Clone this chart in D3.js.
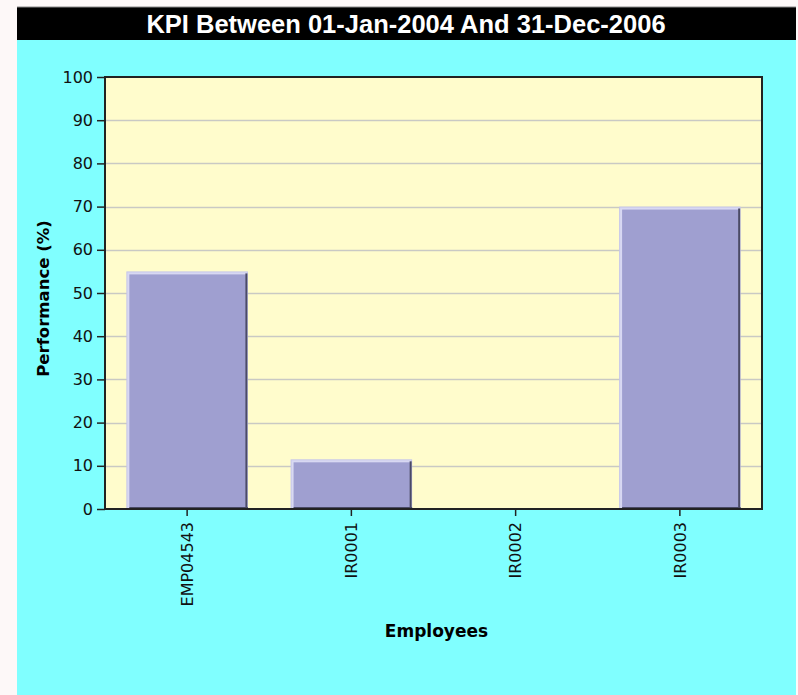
<!DOCTYPE html>
<html>
<head>
<meta charset="utf-8">
<script src="https://cdn.jsdelivr.net/npm/d3@7"></script>
<style>
  html, body { margin: 0; padding: 0; background: #fdf8f8; }
  svg { display: block; }
</style>
</head>
<body>
<svg id="chart" width="798" height="695"></svg>
<script>
// KPI per employee, 01-Jan-2004 .. 31-Dec-2006
const employees = ["EMP04543", "IR0001", "IR0002", "IR0003"];
const performance = [55, 11.5, 0, 70];
const yTicks = [0, 10, 20, 30, 40, 50, 60, 70, 80, 90, 100];
const chartTitle = "KPI Between 01-Jan-2004 And 31-Dec-2006";

const axisFont = "DejaVu Sans, Verdana, sans-serif";
const titleFont = "Liberation Sans, Arial, sans-serif";

const svg = d3.select("#chart");

// outer panel and title bar
svg.append("rect").attr("x", 17).attr("y", 7).attr("width", 779).attr("height", 695)
  .attr("fill", "#80ffff");
svg.append("rect").attr("x", 17).attr("y", 7).attr("width", 779).attr("height", 33)
  .attr("fill", "#000");
svg.append("line").attr("x1", 17).attr("x2", 796).attr("y1", 7).attr("y2", 7)
  .attr("stroke", "#888").attr("stroke-width", 1);
svg.append("text").attr("x", 406).attr("y", 32.5).attr("text-anchor", "middle")
  .attr("fill", "#fff").attr("font-size", 25.5).attr("font-weight", "bold")
  .attr("font-family", titleFont)
  .text(chartTitle);

const plot = { left: 105, right: 762, top: 77, bottom: 509 };

const x = d3.scaleBand().domain(employees).range([plot.left, plot.right])
  .paddingInner(0.26).paddingOuter(0.13);
const y = d3.scaleLinear().domain([0, 100]).range([plot.bottom, plot.top]);

// plot area
svg.append("rect").attr("x", plot.left).attr("y", plot.top)
  .attr("width", plot.right - plot.left).attr("height", plot.bottom - plot.top)
  .attr("fill", "#fffccc");

// gridlines
svg.append("g").selectAll("line").data(yTicks.filter(d => d > 0 && d < 100)).join("line")
  .attr("x1", plot.left).attr("x2", plot.right)
  .attr("y1", d => Math.round(y(d)) + 0.5).attr("y2", d => Math.round(y(d)) + 0.5)
  .attr("stroke", "#c9c9c4").attr("stroke-width", 1.5);

// bars with bevelled edges
const bars = svg.append("g").selectAll("g").data(employees.map((e, i) => ({ e, v: performance[i] })))
  .join("g");
bars.filter(d => d.v > 0).each(function (d) {
  const g = d3.select(this);
  const bx = x(d.e), bw = x.bandwidth(), by = y(d.v), bh = y(0) - y(d.v);
  g.append("rect").attr("x", bx).attr("y", by).attr("width", bw).attr("height", bh)
    .attr("fill", "#c6c6ea");
  g.append("rect").attr("x", bx + 1).attr("y", by + 1).attr("width", bw - 2).attr("height", bh - 1)
    .attr("fill", "#d8d8f2");
  g.append("rect").attr("x", bx + 3).attr("y", by + 3).attr("width", bw - 5).attr("height", bh - 3)
    .attr("fill", "#9f9fd0");
  g.append("line").attr("x1", bx + bw - 1.5).attr("x2", bx + bw - 1.5).attr("y1", by + 2).attr("y2", y(0))
    .attr("stroke", "#4a4a66").attr("stroke-width", 2);
  g.append("line").attr("x1", bx + 3).attr("x2", bx + bw).attr("y1", y(0) - 1).attr("y2", y(0) - 1)
    .attr("stroke", "#4a4a66").attr("stroke-width", 2);
});

// frame
svg.append("rect").attr("x", plot.left).attr("y", plot.top)
  .attr("width", plot.right - plot.left).attr("height", plot.bottom - plot.top)
  .attr("fill", "none").attr("stroke", "#222").attr("stroke-width", 2);

// y axis
const yAxis = svg.append("g").attr("transform", `translate(${plot.left},0)`)
  .call(d3.axisLeft(y).tickValues(yTicks).tickSize(8).tickPadding(4));
yAxis.select(".domain").remove();
yAxis.selectAll(".tick line").attr("stroke", "#222").attr("stroke-width", 1.5);
yAxis.selectAll(".tick text").attr("fill", "#111").attr("font-size", 16)
  .attr("font-family", axisFont);

// x axis
const xAxis = svg.append("g").attr("transform", `translate(0,${plot.bottom})`)
  .call(d3.axisBottom(x).tickSize(7).tickPadding(0));
xAxis.select(".domain").remove();
xAxis.selectAll(".tick line").attr("stroke", "#222").attr("stroke-width", 1.5);
xAxis.selectAll(".tick text")
  .attr("fill", "#111").attr("font-size", 16)
  .attr("font-family", axisFont)
  .attr("transform", "rotate(-90)")
  .attr("text-anchor", "end")
  .attr("x", -13).attr("y", 0).attr("dy", "0.36em");

// axis titles
svg.append("text").attr("transform", "translate(49,298.5) rotate(-90)")
  .attr("text-anchor", "middle").attr("font-size", 16.5).attr("font-weight", "bold")
  .attr("font-family", axisFont)
  .attr("fill", "#000").text("Performance (%)");
svg.append("text").attr("x", 436.5).attr("y", 637)
  .attr("text-anchor", "middle").attr("font-size", 17).attr("font-weight", "bold")
  .attr("font-family", axisFont)
  .attr("fill", "#000").text("Employees");
</script>
</body>
</html>
